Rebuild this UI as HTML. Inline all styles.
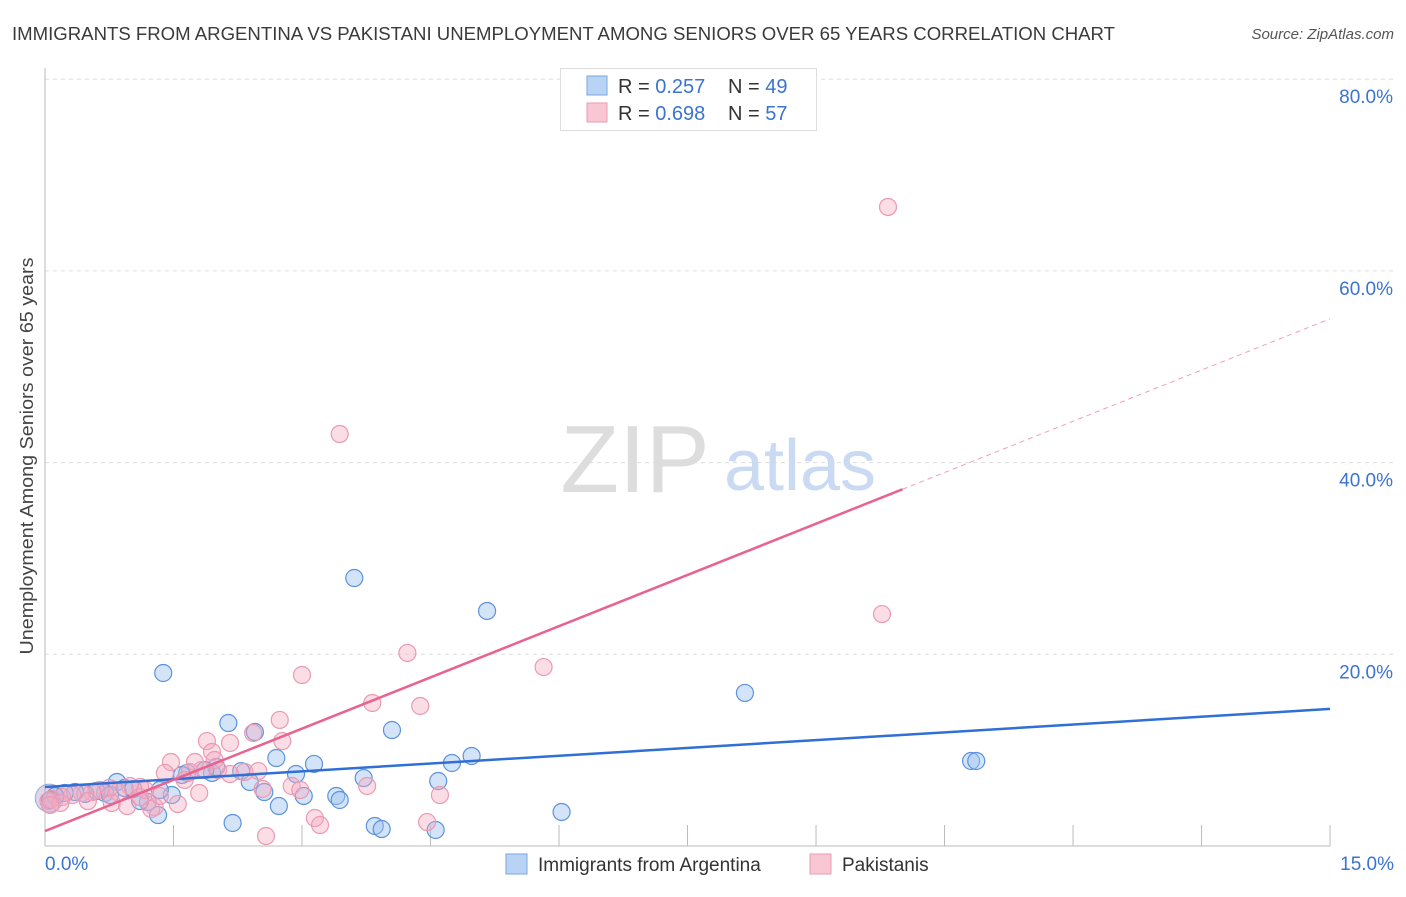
<!DOCTYPE html>
<html><head><meta charset="utf-8"><style>
body{margin:0;background:#fff;font-family:"Liberation Sans",sans-serif;}
svg text{font-family:"Liberation Sans",sans-serif;}
</style></head><body>
<svg id="chart" width="1406" height="892" xmlns="http://www.w3.org/2000/svg">
<text x="12" y="40" font-size="18" fill="#3a3a3a" textLength="1103" lengthAdjust="spacingAndGlyphs">IMMIGRANTS FROM ARGENTINA VS PAKISTANI UNEMPLOYMENT AMONG SENIORS OVER 65 YEARS CORRELATION CHART</text>
<text x="1394" y="39" font-size="15" fill="#555" font-style="italic" text-anchor="end">Source: ZipAtlas.com</text>
<text x="0" y="0" transform="translate(33,456) rotate(-90)" font-size="18" fill="#444" text-anchor="middle" textLength="397" lengthAdjust="spacingAndGlyphs">Unemployment Among Seniors over 65 years</text>
<g id="grid"></g>
<text x="635" y="492" font-size="96" fill="#ddd" font-family="Liberation Serif" text-anchor="middle">ZIP</text>
<text x="800" y="490" font-size="72" fill="#c9daf2" text-anchor="middle">atlas</text>
<g id="pts"></g>
<g id="lines"></g>
<g>
<rect x="560.5" y="68.5" width="256" height="62" fill="#fff" stroke="#ddd"/>
<rect x="587" y="76" width="20" height="19" fill="#b9d3f5" stroke="#7aa6e0"/>
<rect x="587" y="103" width="20" height="19" fill="#f9c6d4" stroke="#eb9ab2"/>
<text x="618" y="93" font-size="20" fill="#333">R = <tspan fill="#3b73d1">0.257</tspan><tspan x="728">N = </tspan><tspan fill="#3b73d1">49</tspan></text>
<text x="618" y="120" font-size="20" fill="#333">R = <tspan fill="#3b73d1">0.698</tspan><tspan x="728">N = </tspan><tspan fill="#3b73d1">57</tspan></text>
</g>
<g>
<rect x="506" y="854" width="21" height="20" fill="#b9d3f5" stroke="#7aa6e0"/>
<text x="538" y="871" font-size="19" fill="#333">Immigrants from Argentina</text>
<rect x="810" y="854" width="21" height="20" fill="#f9c6d4" stroke="#eb9ab2"/>
<text x="842" y="871" font-size="19" fill="#333">Pakistanis</text>
</g>
</svg>
<script>
const yTicks=[20,40,60,80];
const xTickLabels=["0.0%","15.0%"];
const blueX=[1.38,3.61,5.16,8.17,10.81,10.87,4.05,4.98,4.75,4.59,3.72,3.14,2.93,2.70,2.45,2.14,2.29,2.39,2.56,2.73,3.02,3.40,3.44,2.19,3.85,3.93,4.56,6.03,1.95,2.00,1.66,1.60,1.48,1.20,1.11,1.32,0.84,0.93,1.03,0.70,0.60,0.47,0.35,0.23,0.12,0.06,0.76,1.87,1.34];
const blueY=[18.05,27.96,24.52,15.97,8.87,8.87,12.10,9.39,8.66,6.78,7.09,8.56,7.51,9.18,11.89,12.83,7.82,6.68,5.63,4.17,5.22,5.22,4.80,2.40,2.09,1.77,1.67,3.55,7.62,8.24,7.62,7.41,5.32,4.59,4.69,3.23,6.68,6.05,5.95,5.53,5.74,5.43,5.63,5.53,5.22,4.80,5.32,7.93,5.84];
const pinkX=[9.84,3.44,9.77,4.23,5.82,3.00,3.82,4.38,2.74,2.77,2.43,1.89,2.16,1.95,1.47,1.40,2.33,2.49,2.02,1.83,1.69,1.63,1.80,1.11,0.99,0.85,0.75,0.64,0.55,0.43,0.32,0.20,0.08,0.04,0.78,0.96,1.28,1.55,1.24,2.54,2.88,3.76,4.61,4.46,3.15,3.21,2.58,0.50,0.18,1.11,1.34,2.16,1.75,1.98,1.17,2.98,0.06];
const pinkY=[66.67,42.98,24.20,20.14,18.67,17.84,14.92,14.61,13.15,10.95,11.79,10.95,10.75,9.81,8.76,7.62,7.72,7.82,7.93,7.93,7.72,6.89,5.53,6.16,6.26,5.63,6.05,5.84,5.63,5.53,5.32,5.11,4.90,4.69,4.49,4.17,4.07,4.38,3.86,5.95,6.26,6.26,5.32,2.50,2.92,2.19,1.04,4.69,4.49,5.11,5.22,7.51,8.76,8.97,5.84,5.84,4.28];
const blueLine=[6.16,14.3];
const pinkLine=[1.56,55.0];
const pinkSolidEnd=10.01;
const NS="http://www.w3.org/2000/svg";
const X=v=>45+v*85.67, Y=v=>846-v*9.585;
function mk(tag,attrs,parent){const e=document.createElementNS(NS,tag);for(const k in attrs)e.setAttribute(k,attrs[k]);parent.appendChild(e);return e;}
const grid=document.getElementById('grid');
yTicks.forEach(t=>{
 const l=mk('line',{x1:45,x2:1395,y1:Y(t),y2:Y(t),stroke:'#ddd','stroke-dasharray':'4,4'},grid);
 
 
 const tx=mk('text',{x:1393,y:Y(t)+24,'font-size':19,fill:'#3b73d1','text-anchor':'end'},grid);
 tx.textContent=t.toFixed(1)+'%';
 
 
});
const ax=mk('line',{x1:45,x2:45,y1:68,y2:846,stroke:'#bbb'},grid);


const bx=mk('line',{x1:45,x2:1330,y1:846,y2:846,stroke:'#bbb'},grid);


for(let i=1;i<=10;i++){const t=mk('line',{x1:X(i*1.5),x2:X(i*1.5),y1:825,y2:846,stroke:'#bbb'},grid);
 
 }
[[0,'start',45],[15,'end',1394]].forEach((d,i)=>{const t=mk('text',{x:d[2],y:870,'font-size':19,fill:'#3b73d1','text-anchor':d[1]},grid);t.textContent=xTickLabels[i];
 
 });
const pts=document.getElementById('pts');
const bb=mk('circle',{cx:X(0.05),cy:Y(5.0),r:14,fill:'rgba(170,150,200,0.4)',stroke:'#9aa8d8'},pts);


blueX.forEach((x,i)=>{const c=mk('circle',{cx:X(x),cy:Y(blueY[i]),r:8.5,fill:'rgba(160,196,240,0.45)',stroke:'#5d92dc','stroke-width':1.2},pts);
 
 });
pinkX.forEach((x,i)=>{const c=mk('circle',{cx:X(x),cy:Y(pinkY[i]),r:8.5,fill:'rgba(246,170,192,0.4)',stroke:'#eb9ab2','stroke-width':1.2},pts);
 
 });
const lines=document.getElementById('lines');
const b=mk('line',{x1:X(0),y1:Y(blueLine[0]),x2:X(15),y2:Y(blueLine[1]),stroke:'#2f6fd6','stroke-width':2.5},lines);


const pAt=x=>pinkLine[0]+(pinkLine[1]-pinkLine[0])*x/15;
const p=mk('line',{x1:X(0),y1:Y(pAt(0)),x2:X(pinkSolidEnd),y2:Y(pAt(pinkSolidEnd)),stroke:'#e8638f','stroke-width':2.5},lines);


const pd=mk('line',{x1:X(pinkSolidEnd),y1:Y(pAt(pinkSolidEnd)),x2:X(15),y2:Y(pAt(15)),stroke:'#eea0b8','stroke-width':1,'stroke-dasharray':'5,4'},lines);


</script>
</body></html>
